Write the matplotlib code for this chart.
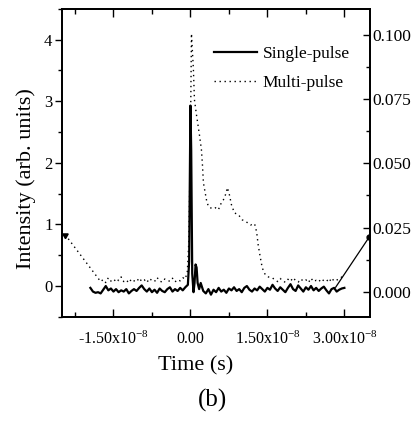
import numpy as np
import matplotlib
matplotlib.use("Agg")
from matplotlib import pyplot as plt
from matplotlib.ticker import MultipleLocator, FixedLocator

plt.rcParams['font.family'] = ['Liberation Serif', 'DejaVu Serif']
plt.rcParams['mathtext.fontset'] = 'custom'
plt.rcParams['mathtext.rm'] = 'Liberation Serif'
plt.rcParams['mathtext.it'] = 'Liberation Serif:italic'
plt.rcParams['mathtext.default'] = 'rm'

# single-pulse trace, time in ns, intensity on left axis
single_t = [-19.5, -19.0, -18.5, -18.0, -17.5, -17.0, -16.5, -16.0, -15.5, -15.0,
            -14.5, -14.0, -13.5, -13.0, -12.5, -12.0, -11.5, -11.0, -10.5, -10.0,
            -9.5, -9.0, -8.5, -8.0, -7.5, -7.0, -6.5, -6.0, -5.5, -5.0,
            -4.5, -4.0, -3.5, -3.0, -2.5, -2.0, -1.5, -1.0, -0.5,
            -0.25, 0.0, 0.15, 0.35, 0.6, 0.8, 1.0, 1.2, 1.4, 1.7, 2.0,
            2.5, 3.0, 3.5, 4.0, 4.5, 5.0, 5.5, 6.0, 6.5, 7.0,
            7.5, 8.0, 8.5, 9.0, 9.5, 10.0, 10.5, 11.0, 11.5, 12.0,
            12.5, 13.0, 13.5, 14.0, 14.5, 15.0, 15.5, 16.0, 16.5, 17.0,
            17.5, 18.0, 18.5, 19.0, 19.5, 20.0, 20.5, 21.0, 21.5, 22.0,
            22.5, 23.0, 23.5, 24.0, 24.5, 25.0, 25.5, 26.0, 26.5, 27.0,
            27.5, 28.0, 28.5, 29.0, 29.5, 30.0]
single_v = [-0.03, -0.09, -0.11, -0.10, -0.12, -0.06, 0.0, -0.07, -0.04, -0.09,
            -0.05, -0.10, -0.07, -0.09, -0.05, -0.12, -0.08, -0.05, -0.08, -0.03,
            0.01, -0.05, -0.09, -0.04, -0.10, -0.06, -0.11, -0.04, -0.08, -0.10,
            -0.05, -0.02, -0.09, -0.05, -0.08, -0.03, -0.07, -0.02, 0.02,
            0.40, 2.93, 2.20, 0.20, -0.10, 0.05, 0.35, 0.30, 0.05, -0.05, 0.05,
            -0.08, -0.12, -0.05, -0.14, -0.06, -0.10, -0.03, -0.09, -0.06, -0.11,
            -0.04, -0.07, -0.02, -0.08, -0.05, -0.10, -0.03, 0.0, -0.06, -0.09,
            -0.04, -0.07, -0.01, -0.05, -0.09, -0.03, -0.06, 0.02, -0.04, -0.08,
            -0.02, -0.06, -0.10, -0.03, 0.03, -0.05, -0.08, 0.01, -0.04, -0.09,
            -0.02, -0.06, 0.0, -0.07, -0.03, -0.08, -0.04, -0.01, -0.07, -0.12,
            -0.05, -0.03, -0.09, -0.06, -0.04, -0.03]
# stray segment of the single-pulse record running off the right edge
single_stray_t = [28.3, 34.8]
single_stray_v = [-0.02, 0.79]

# multi-pulse trace, time in ns, intensity on right axis
multi_t = [-24.4, -17.5, -17.0, -16.5, -16.0, -15.5, -15.0, -14.5, -14.0, -13.5,
           -13.0, -12.5, -12.0, -11.5, -11.0, -10.5, -10.0, -9.5, -9.0, -8.5,
           -8.0, -7.5, -7.0, -6.5, -6.0, -5.5, -5.0, -4.5, -4.0, -3.5,
           -3.0, -2.5, -2.0, -1.5, -1.0, -0.6, -0.3, 0.0, 0.2,
           0.58, 0.78, 1.17, 1.75, 2.14, 2.34, 2.53, 3.12, 3.51, 4.29,
           4.87, 5.45, 5.84, 6.43, 6.82, 7.21, 7.6, 7.99, 8.57, 9.35,
           10.1, 10.9, 11.7, 12.5, 12.9, 13.2, 13.6, 14.0, 14.6, 15.2,
           16.0, 16.5, 17.0, 17.5, 18.0, 18.5, 19.0, 19.5, 20.0, 20.5,
           21.0, 21.5, 22.0, 22.5, 23.0, 23.5, 24.0, 24.5, 25.0, 25.5,
           26.0, 26.5, 27.0, 27.5, 28.0, 28.5, 29.0, 29.5, 30.0]
multi_v = [0.0222, 0.0040, 0.0048, 0.0036, 0.0055, 0.0042, 0.0038, 0.0052, 0.0044, 0.0058,
           0.0040, 0.0046, 0.0035, 0.0050, 0.0043, 0.0039, 0.0054, 0.0041, 0.0047, 0.0036,
           0.0052, 0.0044, 0.0040, 0.0056, 0.0042, 0.0038, 0.0050, 0.0045, 0.0041, 0.0053,
           0.0039, 0.0047, 0.0043, 0.0055, 0.0050, 0.0080, 0.0200, 0.0600, 0.1004,
           0.0864, 0.0747, 0.0689, 0.0611, 0.0553, 0.0494, 0.0424, 0.0358, 0.0331, 0.0323,
           0.0327, 0.0319, 0.0339, 0.0358, 0.0377, 0.0405, 0.0377, 0.0339, 0.0307, 0.0300,
           0.0280, 0.0272, 0.0260, 0.0265, 0.0233, 0.0183, 0.0136, 0.0093, 0.0066, 0.0058,
           0.0054, 0.0046, 0.0040, 0.0052, 0.0043, 0.0037, 0.0049, 0.0041, 0.0055, 0.0044,
           0.0038, 0.0050, 0.0042, 0.0047, 0.0036, 0.0053, 0.0040, 0.0045, 0.0039, 0.0051,
           0.0043, 0.0048, 0.0037, 0.0054, 0.0042, 0.0046, 0.0050, 0.0058, 0.0062]

x_ticks = [-1.5e-8, 0.0, 1.5e-8, 3.0e-8]
x_labels = ['-1.50x10$^{-8}$', '0.00', '1.50x10$^{-8}$', '3.00x10$^{-8}$']
left_ticks = [0, 1, 2, 3, 4]
right_ticks = [0.0, 0.025, 0.05, 0.075, 0.1]

ns = 1e-9
fig = plt.figure(figsize=(4.2, 4.23), dpi=100)
ax = fig.add_axes([0.148, 0.251, 0.733, 0.728])
ax2 = ax.twinx()

line_s, = ax.plot(np.array(single_t) * ns, single_v, color='black', lw=1.6, label='Single-pulse')
ax.plot(np.array(single_stray_t) * ns, single_stray_v, color='black', lw=0.9)
ax.plot([single_stray_t[-1] * ns], [single_stray_v[-1]], marker='o', ms=3.5, color='black')

line_m, = ax2.plot(np.array(multi_t) * ns, multi_v, color='black', lw=1.0,
                   ls=(0, (1, 2.6)), label='Multi-pulse')
ax2.plot([multi_t[0] * ns], [multi_v[0]], marker=(3, 0, 60), ms=4.5, color='black')

ax.set_xlim(-2.5e-8, 3.5e-8)
ax.set_ylim(-0.5, 4.5)
ax2.set_ylim(-0.0097, 0.110)

ax.xaxis.set_major_locator(FixedLocator(x_ticks))
ax.set_xticklabels(x_labels)
ax.xaxis.set_minor_locator(MultipleLocator(0.75e-8))
ax.yaxis.set_major_locator(FixedLocator(left_ticks))
ax.yaxis.set_minor_locator(MultipleLocator(0.5))
ax2.yaxis.set_major_locator(FixedLocator(right_ticks))
ax2.set_yticklabels(['%.3f' % v for v in right_ticks])
ax2.yaxis.set_minor_locator(MultipleLocator(0.0125))

ax.tick_params(axis='x', which='both', direction='in', top=True, labelsize=11.5, pad=10)
ax.tick_params(axis='x', which='major', length=6, width=1)
ax.tick_params(axis='x', which='minor', length=3.5, width=1)
ax.tick_params(axis='y', which='both', direction='out', labelsize=12, pad=2)
ax.tick_params(axis='y', which='major', length=5, width=1)
ax.tick_params(axis='y', which='minor', length=3, width=1)
ax2.tick_params(axis='y', which='both', direction='in', labelsize=12.5, pad=2)
ax2.tick_params(axis='y', which='major', length=5, width=1)
ax2.tick_params(axis='y', which='minor', length=3, width=1)
for a in (ax, ax2):
    for s in a.spines.values():
        s.set_linewidth(1.3)

ax.set_ylabel('Intensity (arb. units)', fontsize=16)
ax.yaxis.set_label_coords(-0.085, 0.45)
ax.set_xlabel('Time (s)', fontsize=16)
ax.xaxis.set_label_coords(0.432, -0.127)

ax2.legend(handles=[line_s, line_m], loc='upper right', bbox_to_anchor=(0.985, 0.93),
           frameon=False, fontsize=12.5, handlelength=2.5, handletextpad=0.3,
           labelspacing=0.72)

fig.text(0.507, 0.054, '(b)', fontsize=18, ha='center', va='center')

fig.savefig('out.png', dpi=100)
